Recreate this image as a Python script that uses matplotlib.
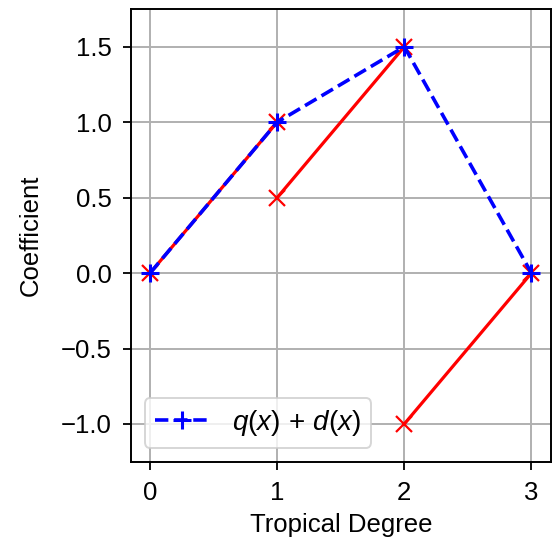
import numpy as np
import matplotlib
matplotlib.use('Agg')
import matplotlib.pyplot as plt

plt.rcParams['font.family'] = ['Liberation Sans', 'DejaVu Sans']
plt.rcParams['mathtext.fontset'] = 'custom'
plt.rcParams['mathtext.it'] = 'Liberation Sans:italic'
plt.rcParams['mathtext.rm'] = 'Liberation Sans'

# red segments (term pieces)
seg_x = [[0, 1], [1, 2], [2, 3]]
seg_y = [[0.0, 1.0], [0.5, 1.5], [-1.0, 0.0]]

# q(x) + d(x)
sum_x = [0, 1, 2, 3]
sum_y = [0.0, 1.0, 1.5, 0.0]

fig = plt.figure(figsize=(5.52, 5.47), dpi=100)
ax = fig.add_axes([131 / 552, 85.3 / 547, 419.5 / 552, 452.7 / 547])

for xs, ys in zip(seg_x, seg_y):
    ax.plot(xs, ys, color='red', linewidth=2.3, marker='x', markersize=12, markeredgewidth=1.6)

ax.plot(sum_x, sum_y, color='blue', linestyle='--', linewidth=2.6, marker='+',
        markersize=13, markeredgewidth=2.2, label=r'$q(x)\,+\,d(x)$')

ax.set_xticks([0, 1, 2, 3])
ax.set_yticks([-1.0, -0.5, 0.0, 0.5, 1.0, 1.5])
ax.set_xlim(-0.15, 3.15)
ax.set_ylim(-1.25, 1.75)
ax.tick_params(labelsize=18.5, length=6, width=1.3, pad=8)
for sp in ax.spines.values():
    sp.set_linewidth(1.4)
ax.set_xlabel('Tropical Degree', fontsize=18.5, labelpad=5.5)
ax.set_ylabel('Coefficient', fontsize=18.5, labelpad=13)
ax.grid(True, color='#b0b0b0', linewidth=1.4)
ax.set_axisbelow(True)
leg = ax.legend(loc='lower left', prop={'size': 20}, handletextpad=0.8, borderpad=0.35)
leg.get_frame().set_linewidth(1.4)

plt.savefig('out.png', dpi=100)
